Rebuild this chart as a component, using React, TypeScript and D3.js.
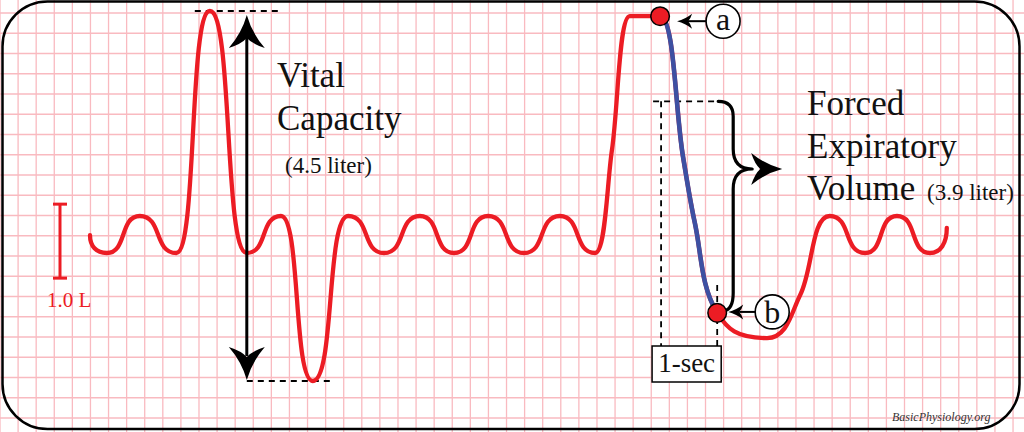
import React from "react";
import * as d3 from "d3";

// Spirogram trace: time (s) and lung volume (L)
const traceTime = [
  0, 0.3, 0.89, 1.54, 2.14, 2.8, 3.41, 3.98, 4.61, 5.25, 5.89, 6.5,
  7.11, 7.75, 8.39, 9.02, 9.32, 9.64, 10.18, 10.59, 10.8, 11.2, 12.09, 12.68, 13.21, 13.84, 14.41, 15.0, 15.3,
];
const traceVolume = [
  1.97, 1.73, 2.23, 1.73, 5.0, 1.73, 2.23, 0.0, 2.23, 1.73, 2.23, 1.73,
  2.23, 1.73, 2.23, 1.73, 3.12, 4.93, 4.93, 3.03, 2.14, 0.92, 0.58, 1.16, 2.23, 1.73, 2.23, 1.73, 2.07,
];
const fevStartIndex = 18; // point (a)
const fevEndIndex = 21; // point (b), one second later

const vitalCapacityTop = 5.0;
const vitalCapacityBottom = 0.0;
const vitalCapacityArrowTime = 2.8;
const fevTopVolume = 3.78;
const scaleBarVolume = [1.39, 2.39];

const vcTitle = ["Vital", "Capacity"];
const vcValue = "(4.5 liter)";
const fevTitle = ["Forced", "Expiratory", "Volume"];
const fevValue = "(3.9 liter)";
const scaleBarLabel = "1.0 L";
const timeBoxLabel = "1-sec";
const markerLabels = ["a", "b"];
const credit = "BasicPhysiology.org";

const W = 1024;
const H = 432;
const RED = "#ec1c24";
const BLUE = "#3d50a2";
const SERIF = "'Liberation Serif', 'Times New Roman', serif";

type P = [number, number];
type Seg = [P, P, P, P];

function buildSegments(pts: P[], k = 0.62): Seg[] {
  const n = pts.length;
  const isExt = (i: number) =>
    i > 0 && i < n - 1 && (pts[i][1] - pts[i - 1][1]) * (pts[i + 1][1] - pts[i][1]) <= 0;
  const segs: Seg[] = [];
  for (let i = 0; i < n - 1; i++) {
    const p0 = pts[i];
    const p1 = pts[i + 1];
    const dx = p1[0] - p0[0];
    const dy = p1[1] - p0[1];
    const len = Math.hypot(dx, dy);
    let c1: P;
    let c2: P;
    if (i === 0) c1 = [p0[0], p0[1] + k * dy];
    else if (isExt(i)) c1 = [p0[0] + k * dx, p0[1]];
    else {
      const tx = p1[0] - pts[i - 1][0];
      const ty = p1[1] - pts[i - 1][1];
      const tl = Math.hypot(tx, ty);
      c1 = [p0[0] + (tx / tl) * (len / 3), p0[1] + (ty / tl) * (len / 3)];
    }
    if (i + 1 === n - 1) c2 = [p1[0], p1[1] - k * dy];
    else if (isExt(i + 1)) c2 = [p1[0] - k * dx, p1[1]];
    else {
      const tx = pts[i + 2][0] - p0[0];
      const ty = pts[i + 2][1] - p0[1];
      const tl = Math.hypot(tx, ty);
      c2 = [p1[0] - (tx / tl) * (len / 3), p1[1] - (ty / tl) * (len / 3)];
    }
    segs.push([p0, c1, c2, p1]);
  }
  return segs;
}

function segPath(segs: Seg[], from: number, to: number) {
  const p = d3.path();
  p.moveTo(segs[from][0][0], segs[from][0][1]);
  for (let i = from; i < to; i++) {
    const [, c1, c2, e] = segs[i];
    p.bezierCurveTo(c1[0], c1[1], c2[0], c2[1], e[0], e[1]);
  }
  return p.toString();
}

function stealth(tip: P, dir: P, len: number, half: number, notch: number) {
  const [ux, uy] = dir;
  const nx = -uy;
  const ny = ux;
  const bx = tip[0] - ux * len;
  const by = tip[1] - uy * len;
  const p = d3.path();
  p.moveTo(tip[0], tip[1]);
  p.quadraticCurveTo(
    tip[0] - ux * len * 0.55 + nx * half * 0.28,
    tip[1] - uy * len * 0.55 + ny * half * 0.28,
    bx + nx * half,
    by + ny * half
  );
  p.quadraticCurveTo(
    tip[0] - ux * (len - notch * 0.4) + nx * half * 0.3,
    tip[1] - uy * (len - notch * 0.4) + ny * half * 0.3,
    tip[0] - ux * (len - notch),
    tip[1] - uy * (len - notch)
  );
  p.quadraticCurveTo(
    tip[0] - ux * (len - notch * 0.4) - nx * half * 0.3,
    tip[1] - uy * (len - notch * 0.4) - ny * half * 0.3,
    bx - nx * half,
    by - ny * half
  );
  p.quadraticCurveTo(
    tip[0] - ux * len * 0.55 - nx * half * 0.28,
    tip[1] - uy * len * 0.55 - ny * half * 0.28,
    tip[0],
    tip[1]
  );
  p.closePath();
  return p.toString();
}

export default function App() {
  const x = d3.scaleLinear().domain([0, 15.5]).range([90, 958]);
  const y = d3.scaleLinear().domain([0, 5]).range([381, 11]);

  const pts: P[] = traceTime.map((t, i) => [x(t), y(traceVolume[i])]);
  const segs = buildSegments(pts);
  const redPath = segPath(segs, 0, segs.length);
  const bluePath = segPath(segs, fevStartIndex, fevEndIndex);

  const A = pts[fevStartIndex];
  const B = pts[fevEndIndex];

  const gridX = d3.range(0, 58).map((k) => k * 18.09);
  const gridY = d3.range(-1, 22).map((k) => 13 + k * 20.25);

  const vcX = x(vitalCapacityArrowTime);
  const vcTopY = y(vitalCapacityTop);
  const vcBotY = y(vitalCapacityBottom);

  const fevTopY = y(fevTopVolume);
  const braceX = B[0] + 16;
  const tipY = fevTopY + 0.32 * (B[1] - fevTopY);
  const brace = d3.path();
  brace.moveTo(B[0] + 1, fevTopY);
  brace.quadraticCurveTo(braceX, fevTopY, braceX, fevTopY + 15);
  brace.lineTo(braceX, tipY - 20);
  brace.quadraticCurveTo(braceX, tipY, braceX + 19, tipY);
  brace.moveTo(braceX + 19, tipY);
  brace.quadraticCurveTo(braceX, tipY, braceX, tipY + 20);
  brace.lineTo(braceX, B[1] - 20);
  brace.quadraticCurveTo(braceX, B[1] - 4, B[0] + 7, B[1] - 2);

  const boxX0 = A[0] - 8;
  const boxX1 = B[0] + 4;
  const boxY0 = 346;
  const boxY1 = 382;

  const sbX = 60;
  const sbY0 = y(scaleBarVolume[0]);
  const sbY1 = y(scaleBarVolume[1]);

  const aLabel: P = [A[0] + 63, A[1] + 5];
  const bLabel: P = [B[0] + 55, B[1] - 1];

  return (
    <svg
      width={W}
      height={H}
      style={{ position: "absolute", left: 0, top: 0, display: "block" }}
      fontFamily={SERIF}
    >
      <rect x={0} y={0} width={W} height={H} fill="#fff" />
      <g stroke="#f9bac0" strokeWidth={1.3}>
        {gridX.map((gx, i) => (
          <line key={"gx" + i} x1={gx} x2={gx} y1={0} y2={H} />
        ))}
        {gridY.map((gy, i) => (
          <line key={"gy" + i} x1={0} x2={W} y1={gy} y2={gy} />
        ))}
      </g>
      <rect x={2.5} y={1.5} width={1017} height={427.5} rx={45} ry={45} fill="none" stroke="#000" strokeWidth={2.5} />

      {/* scale bar */}
      <g stroke={RED} strokeWidth={3}>
        <line x1={sbX} x2={sbX} y1={sbY0} y2={sbY1} />
        <line x1={sbX - 7} x2={sbX + 7} y1={sbY0} y2={sbY0} />
        <line x1={sbX - 7} x2={sbX + 7} y1={sbY1} y2={sbY1} />
      </g>
      <text x={47} y={307} fontSize={21} fill={RED}>
        {scaleBarLabel}
      </text>

      {/* dashed guides */}
      <g stroke="#000" strokeWidth={1.8} strokeDasharray="6,5" fill="none">
        <line x1={vcX - 52} x2={vcX + 36} y1={vcTopY} y2={vcTopY} />
        <line x1={vcX} x2={vcX + 85} y1={vcBotY} y2={vcBotY} />
        <line x1={A[0] - 7} x2={B[0] + 1} y1={fevTopY} y2={fevTopY} />
        <line x1={A[0] + 1} x2={A[0] + 1} y1={fevTopY} y2={boxY0} />
        <line x1={B[0]} x2={B[0]} y1={B[1] - 28} y2={boxY0} />
      </g>

      {/* trace */}
      <path d={redPath} fill="none" stroke={RED} strokeWidth={4.3} strokeLinecap="round" strokeLinejoin="round" />
      <path d={bluePath} fill="none" stroke={BLUE} strokeWidth={4.6} strokeLinecap="round" strokeLinejoin="round" />

      {/* vital capacity arrow */}
      <line x1={vcX} x2={vcX} y1={vcTopY + 25} y2={vcBotY - 25} stroke="#000" strokeWidth={3} />
      <path d={stealth([vcX, vcTopY + 4], [0, -1], 33, 18, 10)} fill="#000" />
      <path d={stealth([vcX, vcBotY - 1], [0, 1], 33, 18, 10)} fill="#000" />

      <g fontSize={35} fill="#111">
        <text x={277} y={87}>{vcTitle[0]}</text>
        <text x={277} y={130}>{vcTitle[1]}</text>
        <text x={807} y={115}>{fevTitle[0]}</text>
        <text x={807} y={158}>{fevTitle[1]}</text>
        <text x={807} y={200}>{fevTitle[2]}</text>
      </g>
      <text x={285} y={173} fontSize={23} fill="#111">{vcValue}</text>
      <text x={927} y={200} fontSize={23} fill="#111">{fevValue}</text>

      {/* FEV brace */}
      <path d={brace.toString()} fill="none" stroke="#000" strokeWidth={3.2} strokeLinecap="round" />
      <path d={stealth([braceX + 49, tipY], [1, 0], 31, 16, 9)} fill="#000" />

      {/* 1-sec box */}
      <rect x={boxX0} y={boxY0} width={boxX1 - boxX0} height={boxY1 - boxY0} fill="#fff" stroke="#000" strokeWidth={1.5} />
      <text x={(boxX0 + boxX1) / 2} y={372} fontSize={27} textAnchor="middle" fill="#111">
        {timeBoxLabel}
      </text>

      {/* marker dots */}
      {[A, B].map((p, i) => (
        <circle key={"dot" + i} cx={p[0]} cy={p[1]} r={9.3} fill={RED} stroke="#000" strokeWidth={1.5} />
      ))}

      {/* label a */}
      <line x1={aLabel[0] - 17} x2={A[0] + 26} y1={aLabel[1]} y2={aLabel[1]} stroke="#000" strokeWidth={2} />
      <path d={stealth([A[0] + 17, aLabel[1]], [-1, 0], 15, 7.5, 4)} fill="#000" />
      <circle cx={aLabel[0]} cy={aLabel[1]} r={17} fill="#fff" stroke="#000" strokeWidth={1.6} />
      <text x={aLabel[0]} y={aLabel[1] + 9} fontSize={32} textAnchor="middle" fill="#111">
        {markerLabels[0]}
      </text>

      {/* label b */}
      <line x1={bLabel[0] - 17} x2={B[0] + 22} y1={bLabel[1]} y2={bLabel[1]} stroke="#000" strokeWidth={2} />
      <path d={stealth([B[0] + 11, bLabel[1]], [-1, 0], 15, 7.5, 4)} fill="#000" />
      <circle cx={bLabel[0]} cy={bLabel[1]} r={17} fill="#fff" stroke="#000" strokeWidth={1.6} />
      <text x={bLabel[0]} y={bLabel[1] + 11.5} fontSize={32} textAnchor="middle" fill="#111">
        {markerLabels[1]}
      </text>

      <text x={892} y={421} fontSize={12} fontStyle="italic" fill="#333">
        {credit}
      </text>
    </svg>
  );
}
